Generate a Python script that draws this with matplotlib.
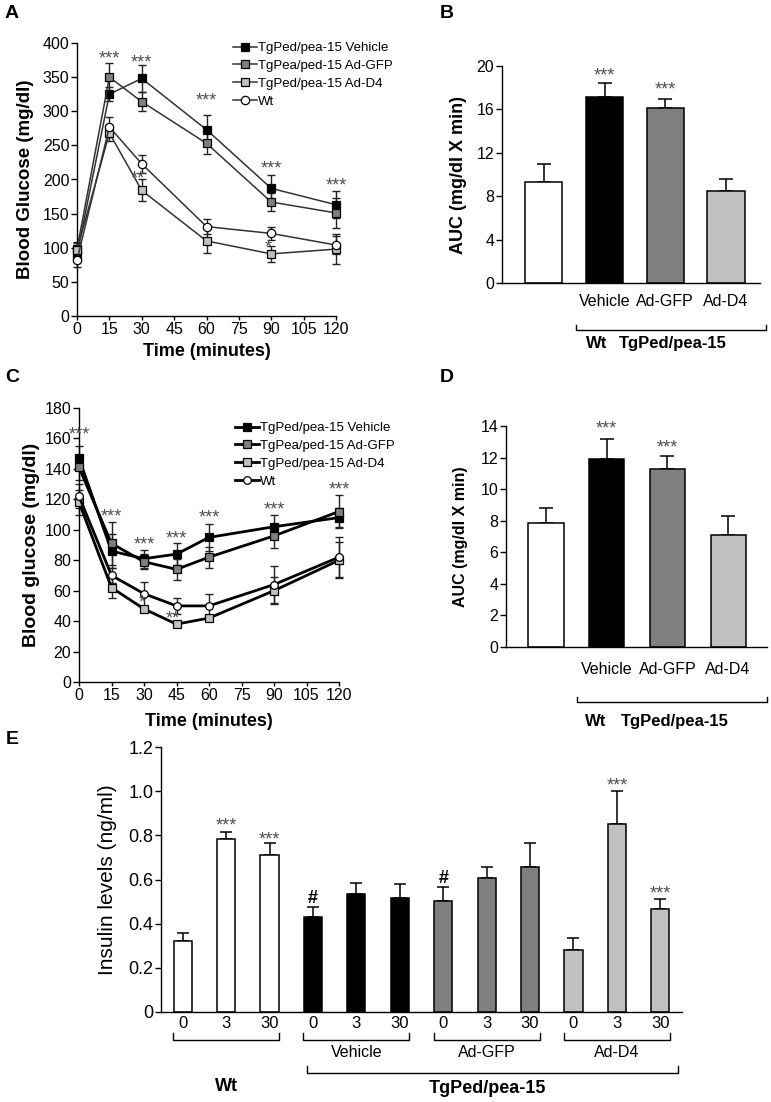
import matplotlib
matplotlib.use('Agg')
import matplotlib.pyplot as plt
import numpy as np

plt.rcParams['font.family'] = ['Liberation Sans', 'DejaVu Sans']

# ---------------- data ----------------
# A: glucose tolerance test
gtt_time = [0, 15, 30, 60, 90, 120]
gtt_vehicle = [90, 325, 348, 273, 187, 163]
gtt_vehicle_err = [10, 10, 20, 21, 20, 20]
gtt_gfp = [98, 350, 314, 253, 167, 151]
gtt_gfp_err = [10, 20, 14, 16, 13, 22]
gtt_d4 = [97, 268, 184, 110, 91, 98]
gtt_d4_err = [10, 12, 16, 17, 12, 22]
gtt_wt = [82, 277, 223, 131, 121, 104]
gtt_wt_err = [10, 15, 13, 11, 9, 13]
gtt_stars = [(15, 385, '***'), (30, 380, '***'), (60, 324, '***'), (90, 224, '***'),
             (120, 199, '***'), (28, 209, '**'), (88.5, 109, '*')]

# C: insulin tolerance test
itt_time = [0, 15, 30, 45, 60, 90, 120]
itt_vehicle = [147, 86, 81, 84, 95, 102, 108]
itt_vehicle_err = [8, 11, 6, 7, 9, 8, 6]
itt_gfp = [141, 91, 79, 74, 82, 96, 112]
itt_gfp_err = [8, 14, 5, 7, 7, 8, 11]
itt_d4 = [118, 62, 48, 38, 42, 60, 80]
itt_d4_err = [8, 7, 2, 1, 1, 9, 12]
itt_wt = [122, 70, 58, 50, 50, 64, 82]
itt_wt_err = [8, 5, 8, 5, 8, 12, 13]
itt_stars = [(0, 166, '***'), (15, 112, '***'), (30, 94, '***'), (45, 98, '***'),
             (60, 111.5, '***'), (90, 117, '***'), (120, 130, '***'),
             (29, 56, '*'), (43.5, 45, '**')]

legend_labels = ['TgPed/pea-15 Vehicle', 'TgPea/ped-15 Ad-GFP',
                 'TgPed/pea-15 Ad-D4', 'Wt']

# B, D: AUC
auc_groups = ['Wt', 'Vehicle', 'Ad-GFP', 'Ad-D4']
auc_gtt = [9.3, 17.1, 16.15, 8.5]
auc_gtt_err = [1.7, 1.3, 0.85, 1.05]
auc_gtt_stars = [(1, 19.66, '***'), (2, 18.38, '***')]
auc_itt = [7.85, 11.88, 11.3, 7.12]
auc_itt_err = [0.93, 1.32, 0.8, 1.2]
auc_itt_stars = [(1, 14.2, '***'), (2, 13.0, '***')]

# E: insulin levels
ins_minutes = ['0', '3', '30'] * 4
ins_groups = ['Wt', 'Vehicle', 'Ad-GFP', 'Ad-D4']
ins_values = [0.322, 0.782, 0.71, 0.431, 0.533, 0.516,
              0.502, 0.605, 0.658, 0.283, 0.85, 0.465]
ins_err = [0.034, 0.034, 0.054, 0.043, 0.051, 0.064,
           0.064, 0.053, 0.106, 0.054, 0.149, 0.045]
ins_stars = [(1, 0.87, '***'), (2, 0.807, '***'), (10, 1.05, '***'), (11, 0.56, '***')]
ins_hash = [(3, 0.522), (6, 0.613)]

# ---------------- style ----------------
C_VEH, C_GFP, C_D4, C_WT = 'black', '#7f7f7f', '#c0c0c0', 'white'
group_colors = [C_WT, C_VEH, C_GFP, C_D4]
STAR_C = '#505050'

W, H = 771, 1102
fig = plt.figure(figsize=(W / 100, H / 100), dpi=100)


def px_axes(left, top, right, bottom):
    return fig.add_axes([left / W, 1 - bottom / H, (right - left) / W, (bottom - top) / H])


def style_axes(ax, lsize):
    for s in ['top', 'right']:
        ax.spines[s].set_visible(False)
    for s in ['left', 'bottom']:
        ax.spines[s].set_linewidth(1.0)
    ax.tick_params(direction='out', length=4, width=1.0, labelsize=lsize, pad=1.5)


def star(ax, x, y, s, size=13):
    ax.annotate(s, (x, y), xytext=(0, -0.58 * size), textcoords='offset points',
                ha='center', va='baseline', fontsize=size, color=STAR_C,
                annotation_clip=False)


def bracket(ax, x0, x1, y_line, y_tip, lw=1.0):
    tr = ax.get_xaxis_transform()
    ax.plot([x0, x0, x1, x1], [y_tip, y_line, y_line, y_tip], color='black',
            lw=lw, transform=tr, clip_on=False)


def curve_panel(ax, t, series, errs, lw, ms, lcolor):
    markers = ['s', 's', 's', 'o']
    facec = [C_VEH, C_GFP, C_D4, C_WT]
    handles = []
    for y, e, m, fc, lab in zip(series, errs, markers, facec, legend_labels):
        ax.errorbar(t, y, yerr=e, fmt='none', ecolor='#222222', elinewidth=1.0,
                    capsize=3, capthick=1.0, clip_on=False, zorder=2)
        h, = ax.plot(t, y, color=lcolor, lw=lw, marker=m, ms=ms, mfc=fc, mec='black',
                     mew=0.9, clip_on=False, zorder=3, label=lab)
        handles.append(h)
    ax.set_xlim(0, 120)
    ax.set_xticks(np.arange(0, 121, 15))
    ax.tick_params(axis='x', length=3)
    return handles


def bar_panel(ax, vals, errs, width):
    x = np.arange(len(vals))
    ax.bar(x, vals, width=width, color=group_colors, edgecolor='black', linewidth=1.1, zorder=2)
    ax.errorbar(x, vals, yerr=[np.zeros(len(vals)), errs], fmt='none', ecolor='black',
                elinewidth=1.1, capsize=5, capthick=1.1, zorder=1)
    return x


# ---------------- A ----------------
axA = px_axes(77, 43, 336, 316)
style_axes(axA, 11.5)
hA = curve_panel(axA, gtt_time, [gtt_vehicle, gtt_gfp, gtt_d4, gtt_wt],
                 [gtt_vehicle_err, gtt_gfp_err, gtt_d4_err, gtt_wt_err], 1.1, 6, '#333333')
axA.set_ylim(0, 400)
axA.set_yticks(np.arange(0, 401, 50))
for x, y, s in gtt_stars:
    star(axA, x, y, s)
axA.set_ylabel('Blood Glucose (mg/dl)', fontsize=13.5, fontweight='bold')
axA.yaxis.set_label_coords(-0.165, 0.5)
axA.set_xlabel('Time (minutes)', fontsize=13, fontweight='bold', labelpad=4)
axA.legend(handles=hA, loc='upper left', bbox_to_anchor=(233 / W, 1 - 42 / H),
           bbox_transform=fig.transFigure, frameon=False, fontsize=9.5,
           handlelength=1.8, handletextpad=0.1, borderpad=0, borderaxespad=0,
           labelspacing=0.42)

# ---------------- B ----------------
axB = px_axes(502, 66, 760, 283)
style_axes(axB, 11.5)
xb = bar_panel(axB, auc_gtt, auc_gtt_err, 0.61)
axB.set_xlim(-0.69, 3.56)
axB.set_ylim(0, 20)
axB.set_yticks(np.arange(0, 21, 4))
axB.set_xticks(xb[1:])
axB.set_xticklabels(auc_groups[1:])
axB.tick_params(axis='x', length=0, pad=8, labelsize=11.5)
for x, y, s in auc_gtt_stars:
    star(axB, x, y, s)
axB.set_ylabel('AUC (mg/dl X min)', fontsize=13, fontweight='bold')
axB.yaxis.set_label_coords(-0.135, 0.5)
bracket(axB, 0.53, 3.66, -0.217, -0.194)
trB = axB.get_xaxis_transform()
axB.text(0.87, -0.278, auc_groups[0], transform=trB, ha='center', va='center',
         fontsize=12, fontweight='bold')
axB.text(2.13, -0.278, 'TgPed/pea-15', transform=trB, ha='center', va='center',
         fontsize=12, fontweight='bold')

# ---------------- C ----------------
axC = px_axes(79, 408, 339, 682)
style_axes(axC, 11.5)
hC = curve_panel(axC, itt_time, [itt_vehicle, itt_gfp, itt_d4, itt_wt],
                 [itt_vehicle_err, itt_gfp_err, itt_d4_err, itt_wt_err], 2.0, 5.5, 'black')
axC.set_ylim(0, 180)
axC.set_yticks(np.arange(0, 181, 20))
for x, y, s in itt_stars:
    star(axC, x, y, s)
axC.set_ylabel('Blood glucose (mg/dl)', fontsize=14, fontweight='bold')
axC.yaxis.set_label_coords(-0.15, 0.5)
axC.set_xlabel('Time (minutes)', fontsize=13, fontweight='bold', labelpad=7)
axC.legend(handles=hC, loc='upper left', bbox_to_anchor=(235 / W, 1 - 422 / H),
           bbox_transform=fig.transFigure, frameon=False, fontsize=9.5,
           handlelength=1.8, handletextpad=0.1, borderpad=0, borderaxespad=0,
           labelspacing=0.42)

# ---------------- D ----------------
axD = px_axes(506, 426, 767, 647)
style_axes(axD, 11.5)
xd = bar_panel(axD, auc_itt, auc_itt_err, 0.58)
axD.set_xlim(-0.66, 3.64)
axD.set_ylim(0, 14)
axD.set_yticks(np.arange(0, 15, 2))
axD.set_xticks(xd[1:])
axD.set_xticklabels(auc_groups[1:])
axD.tick_params(axis='x', length=0, pad=11, labelsize=11.5)
for x, y, s in auc_itt_stars:
    star(axD, x, y, s)
axD.set_ylabel('AUC (mg/dl X min)', fontsize=11.5, fontweight='bold')
axD.yaxis.set_label_coords(-0.145, 0.5)
bracket(axD, 0.51, 3.64, -0.249, -0.226)
trD = axD.get_xaxis_transform()
axD.text(0.82, -0.335, auc_groups[0], transform=trD, ha='center', va='center',
         fontsize=12, fontweight='bold')
axD.text(2.12, -0.335, 'TgPed/pea-15', transform=trD, ha='center', va='center',
         fontsize=12, fontweight='bold')

# ---------------- E ----------------
axE = px_axes(161, 747, 682, 1012)
style_axes(axE, 13)
xe = np.arange(len(ins_values))
ecolors = [c for c in group_colors for _ in range(3)]
axE.bar(xe, ins_values, width=0.42, color=ecolors, edgecolor='black', linewidth=1.1, zorder=2)
axE.errorbar(xe, ins_values, yerr=[np.zeros(len(xe)), ins_err], fmt='none', ecolor='black',
             elinewidth=1.1, capsize=4, capthick=1.1, zorder=1)
axE.set_xlim(-0.5, 11.5)
axE.set_ylim(0, 1.2)
axE.set_yticks(np.arange(0, 1.21, 0.2))
axE.set_yticklabels(['0'] + ['%.1f' % v for v in np.arange(0.2, 1.21, 0.2)])
axE.set_xticks(xe)
axE.set_xticklabels(ins_minutes)
axE.tick_params(axis='x', length=0, pad=3, labelsize=12)
for x, y, s in ins_stars:
    star(axE, x, y, s)
for x, y in ins_hash:
    axE.annotate('#', (x, y), xytext=(0, -4.7), textcoords='offset points', ha='center',
                 va='baseline', fontsize=13, fontweight='bold')
axE.set_ylabel('Insulin levels (ng/ml)', fontsize=15)
axE.yaxis.set_label_coords(-0.085, 0.5)
trE = axE.get_xaxis_transform()
for g in range(4):
    bracket(axE, 3 * g - 0.22, 3 * g + 2.22, -0.106, -0.079)
    if g > 0:
        axE.text(3 * g + 1, -0.151, ins_groups[g], transform=trE, ha='center', va='center',
                 fontsize=11.5)
bracket(axE, 2.86, 11.4, -0.23, -0.204)
axE.text(1.01, -0.283, ins_groups[0], transform=trE, ha='center', va='center',
         fontsize=13, fontweight='bold')
axE.text(7.03, -0.287, 'TgPed/pea-15', transform=trE, ha='center', va='center',
         fontsize=13, fontweight='bold')

# ---------------- panel letters ----------------
for lab, px, py in [('A', 12, 13), ('B', 447, 13), ('C', 12, 378), ('D', 447, 377), ('E', 12, 739)]:
    fig.text(px / W, 1 - py / H, lab, fontsize=14, fontweight='bold', ha='center', va='center')

fig.savefig('out.png', dpi=100)
